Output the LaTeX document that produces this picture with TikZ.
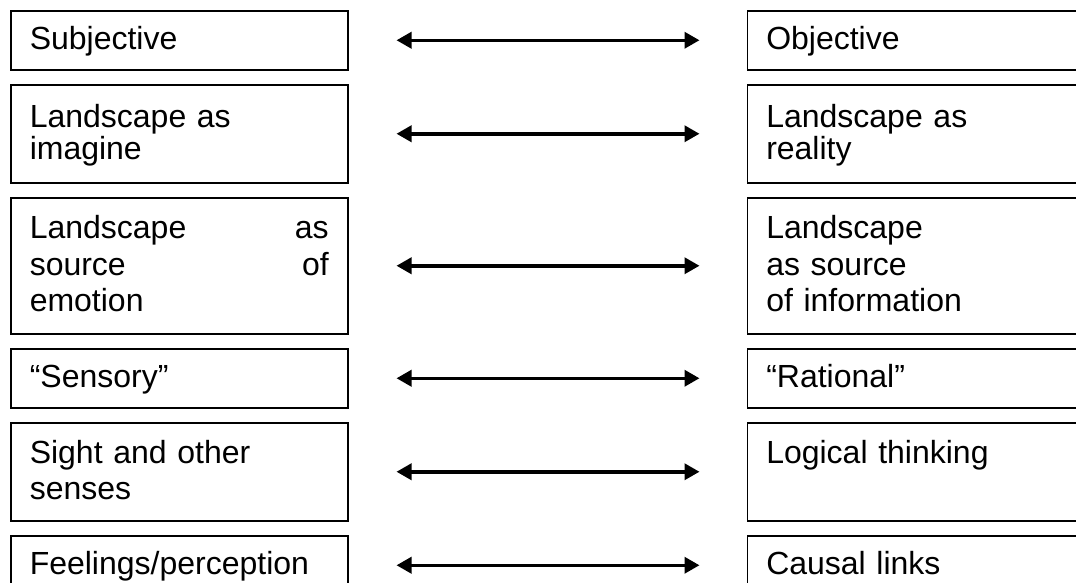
\documentclass[tikz,border=0pt]{standalone}
\usepackage{fontspec}
\setmainfont{Liberation Sans}
\usetikzlibrary{arrows.meta, positioning}

\begin{document}
\begin{tikzpicture}[
    x=1pt, y=1pt,
    node distance=13.5pt,
    box/.style={rectangle, draw, line width=1.5pt, minimum width=337pt, text width=299pt, inner xsep=19pt, inner ysep=2pt, align=left, font=\fontsize{32}{36.5}\selectfont,
        execute at begin node={\rule{0pt}{27.5pt}}, execute at end node={\rule[-8.5pt]{0pt}{8.5pt}}},
    arrow/.style={line width=3.5pt, {Triangle[length=15pt,width=16pt]}-{Triangle[length=15pt,width=16pt]}, shorten <=48pt, shorten >=47pt}
]
\useasboundingbox (0,0) rectangle (1076,-582);
\clip (0,0) rectangle (1076,-582);

% left column
\node (subj) [box, minimum height=59pt, anchor=north west] at (10,-10) {Subjective};
\node (imag) [box, minimum height=98pt, below=of subj, font=\fontsize{32}{32.5}\selectfont] {Landscape as\\imagine};
\node (emot) [box, minimum height=136pt, below=of imag] {Landscape\hfill as\\source\hfill of\\emotion};
\node (sens) [box, minimum height=59pt, below=of emot] {“Sensory”};
\node (sight) [box, minimum height=98pt, below=of sens] {Sight and other\\senses};
\node (feel) [box, minimum height=59pt, below=of sight] {Feelings/perception};

% right column
\node (obj) [box, minimum height=59pt, right=398pt of subj] {Objective};
\node (real) [box, minimum height=98pt, right=398pt of imag, font=\fontsize{32}{32.5}\selectfont] {Landscape as\\reality};
\node (info) [box, minimum height=136pt, right=398pt of emot] {Landscape\\as source\\of information};
\node (rat) [box, minimum height=59pt, right=398pt of sens] {“Rational”};
\node (logic) [box, minimum height=98pt, right=398pt of sight] {Logical thinking\\\mbox{}};
\node (caus) [box, minimum height=59pt, right=398pt of feel] {Causal links};

\draw [arrow] (subj) -- (obj);
\draw [arrow] (imag) -- (real);
\draw [arrow] (emot) -- (info);
\draw [arrow] (sens) -- (rat);
\draw [arrow] (sight) -- (logic);
\draw [arrow] (feel) -- (caus);

\end{tikzpicture}
\end{document}
